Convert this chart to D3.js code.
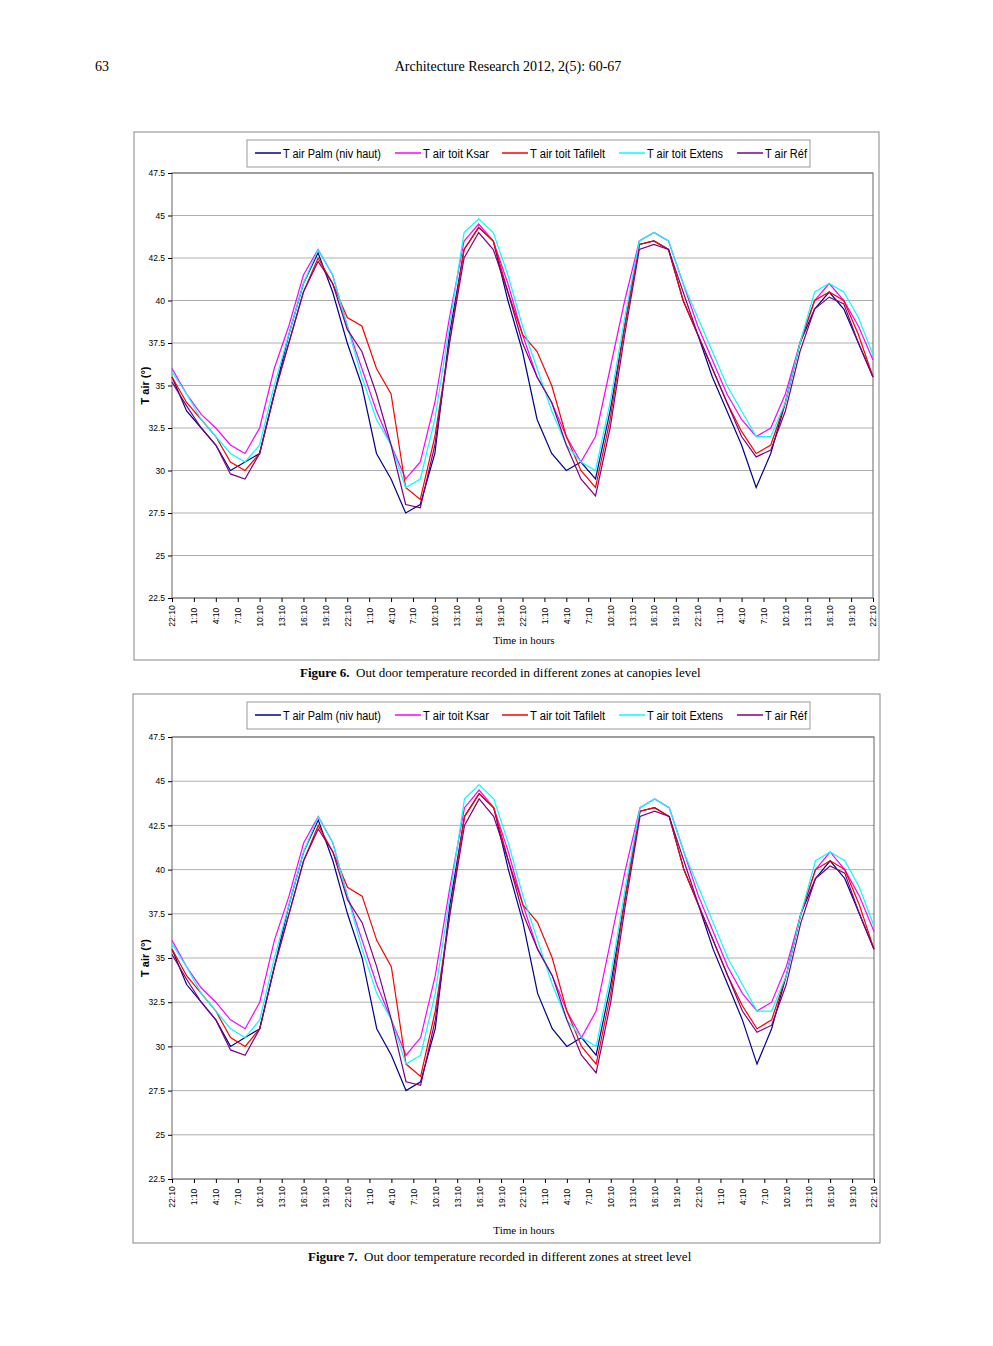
<!DOCTYPE html>
<html><head><meta charset="utf-8">
<script src="https://d3js.org/d3.v7.min.js"></script>
<style>body{margin:0;background:#fff}</style></head>
<body><svg id="c" width="993" height="1346"></svg>
<script>
// hours since 22:10, every 2 h
const hours = d3.range(0, 97, 2);
const tickLabels = ["22:10","1:10","4:10","7:10","10:10","13:10","16:10","19:10","22:10","1:10","4:10","7:10","10:10","13:10","16:10","19:10","22:10","1:10","4:10","7:10","10:10","13:10","16:10","19:10","22:10","1:10","4:10","7:10","10:10","13:10","16:10","19:10","22:10"];
const yTicks = [22.5,25,27.5,30,32.5,35,37.5,40,42.5,45,47.5];
const seriesNames = ["T air Palm (niv haut)","T air toit Ksar","T air toit Tafilelt","T air toit Extens","T air Réf"];
const palm = [35.5,33.5,32.5,31.5,30,30.5,31,34.5,38,41,42.8,40.5,37.5,35,31,29.5,27.5,28,31,38,43,44.3,43.5,40,37,33,31,30,30.5,29.5,33.5,38.5,43.3,43.5,43,40,38,35.5,33.5,31.5,29,31,34,37.5,39.5,40.5,39.5,37.5,35.5];
const ksar = [36,34.5,33.3,32.5,31.5,31,32.5,36,38.5,41.5,43,41.5,38.5,36,33.5,31.5,29.5,30.5,34,39,43.5,44.5,43.5,41,38,35.5,34,32,30.5,32,36,40,43.5,44,43.5,41,38.5,36.5,34.5,33,32,32.5,34.5,37.5,40,41,40,38.5,36.5];
const tafilelt = [35.5,34,33,32,30.5,30,31,34.5,37.5,40.5,42.5,41,39,38.5,36,34.5,29,28.3,32,37.5,43,44.3,43.5,40.5,38,37,35,32,30,29,33,38.5,43.3,43.5,43,40,38,36,34,32.3,31,31.5,34,37.5,40,40.5,40,38,35.5];
const extens = [35.8,34.5,33,32,31,30.5,31.5,35,38,41,43,41.5,38.5,35.5,33,31.5,29,29.5,33,38.5,44,44.8,44,41.5,38.5,36,33.5,31.5,30.5,30,34,39,43.5,44,43.5,41,39,37,35,33.5,32,32,34,37.5,40.5,41,40.5,39,36.8];
const ref = [35.2,33.8,32.5,31.5,29.8,29.5,31,34.5,37.5,40.5,42.3,41,38.3,37,34.5,31.5,28,27.8,31.5,37.5,42.5,44,43,40.5,37.5,35.5,34,31.5,29.5,28.5,32.5,38,43,43.3,43,40.5,38,36,34,32,30.8,31.2,33.5,37,39.5,40.2,39.8,37.5,35.5];
const colors = ["#00008b","#ff00ff","#ff0000","#00ffff","#800080"];
const allSeries = [palm, ksar, tafilelt, extens, ref];

const svg = d3.select("#c");
svg.append("text").attr("x",95).attr("y",71).attr("font-family","Liberation Serif").attr("font-size",14).text("63");
svg.append("text").attr("x",508).attr("y",71).attr("text-anchor","middle").attr("font-family","Liberation Serif").attr("font-size",14).text("Architecture Research 2012, 2(5): 60-67");

function chart(f){
  svg.append("rect").attr("x",f.fx).attr("y",f.fy).attr("width",f.fw).attr("height",f.fh).attr("fill","none").attr("stroke","#888");
  const x = d3.scaleLinear().domain([0,96]).range([172,f.r]);
  const y = d3.scaleLinear().domain([22.5,47.5]).range([f.b,f.t]);
  const g = svg.append("g");
  g.selectAll(".gl").data(yTicks).join("line").attr("x1",172).attr("x2",f.r).attr("y1",d=>y(d)).attr("y2",d=>y(d)).attr("stroke","#999").attr("stroke-width",0.8);
  g.append("rect").attr("x",172).attr("y",f.t).attr("width",f.r-172).attr("height",f.b-f.t).attr("fill","none").attr("stroke","#666");
  const ya = g.append("g").attr("transform","translate(172,0)").call(d3.axisLeft(y).tickValues(yTicks).tickSize(4).tickFormat(d=>d));
  ya.selectAll("text").attr("font-family","Liberation Sans").attr("font-size",8.5);
  ya.select(".domain").remove();
  const tv = d3.range(0,97,3);
  const xa = g.append("g").attr("transform",`translate(0,${f.b})`).call(d3.axisBottom(x).tickValues(tv).tickSize(4).tickFormat((d,i)=>tickLabels[i]));
  xa.select(".domain").remove();
  xa.selectAll("text").attr("font-family","Liberation Sans").attr("font-size",8.5).attr("text-anchor","middle")
    .attr("transform","translate(0,18) rotate(-90)").attr("dy","0.35em").attr("y",0).attr("x",0);
  const line = d3.line().x((d,i)=>x(hours[i])).y(d=>y(d)).curve(d3.curveLinear);
  allSeries.forEach((s,k)=>{
    g.append("path").attr("d",line(s)).attr("fill","none").attr("stroke",colors[k]).attr("stroke-width",1.2);
  });
  g.append("text").attr("transform",`translate(149,${(f.t+f.b)/2}) rotate(-90)`).attr("text-anchor","middle").attr("font-family","Liberation Sans").attr("font-weight","bold").attr("font-size",11).text("T air (°)");
  g.append("text").attr("x",524).attr("y",f.xt).attr("text-anchor","middle").attr("font-family","Liberation Serif").attr("font-size",11).text("Time in hours");
  // legend
  g.append("rect").attr("x",247).attr("y",f.ly).attr("width",563).attr("height",27).attr("fill","#fff").attr("stroke","#999");
  const lx = [255,395,502,619,737];
  const tl = [98,66,75,76,42];
  seriesNames.forEach((n,k)=>{
    g.append("line").attr("x1",lx[k]).attr("x2",lx[k]+26).attr("y1",f.ly+13).attr("y2",f.ly+13).attr("stroke",colors[k]).attr("stroke-width",1.5);
    g.append("text").attr("x",lx[k]+28).attr("y",f.ly+18).attr("font-family","Liberation Sans").attr("font-size",12.5)
      .attr("textLength",tl[k]).attr("lengthAdjust","spacingAndGlyphs").text(n);
  });
  const cap = svg.append("text").attr("x",f.cx).attr("y",f.cy).attr("font-family","Liberation Serif").attr("font-size",13);
  cap.append("tspan").attr("font-weight","bold").text(f.capB);
  cap.append("tspan").text("\u00a0\u00a0"+f.capT);
}
chart({fx:134,fy:132,fw:745,fh:528,r:873,t:173,b:598,xt:644,ly:140,cx:300,cy:677,capB:"Figure 6.",capT:"Out door temperature recorded in different zones at canopies level"});
chart({fx:133,fy:694,fw:747,fh:549,r:874,t:737,b:1179,xt:1234,ly:702,cx:308,cy:1261,capB:"Figure 7.",capT:"Out door temperature recorded in different zones at street level"});
</script></body></html>
